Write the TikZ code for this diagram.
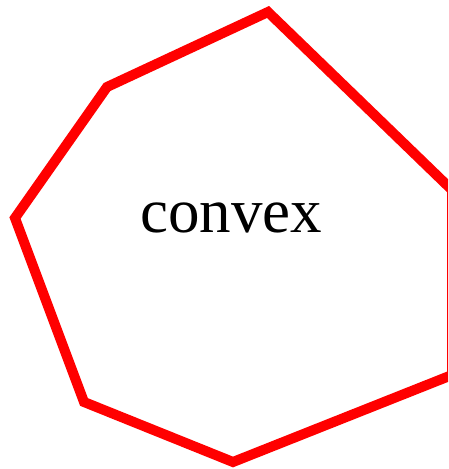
\documentclass[tikz,border=0pt]{standalone}
\usepackage{fontspec}
\setmainfont{Liberation Serif}
\begin{document}
\begin{tikzpicture}[x=1pt,y=1pt,
  poly/.style={draw=red,line width=10pt},
  lbl/.style={font=\fontsize{63}{70}\selectfont,inner sep=0pt}]
\useasboundingbox (0,0) rectangle (448,469);
\clip (0,0) rectangle (448,469);
\coordinate (v1) at (268,457);
\coordinate (v2) at (107,382);
\coordinate (v3) at (15,251);
\coordinate (v4) at (84,67);
\coordinate (v5) at (233,7);
\coordinate (v6) at (452,94);
\coordinate (v7) at (452,279);
\draw[poly] (v1) -- (v2) -- (v3) -- (v4) -- (v5) -- (v6) -- (v7) -- cycle;
\node[lbl] (t) at (231,251) {convex};
\end{tikzpicture}
\end{document}
